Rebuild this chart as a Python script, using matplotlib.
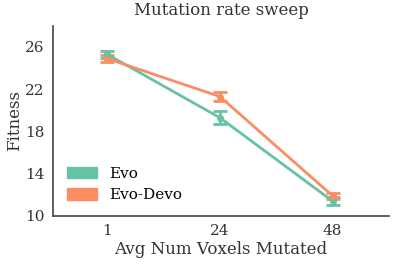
import matplotlib
matplotlib.use("Agg")
import matplotlib.pyplot as plt
from matplotlib.patches import Patch
import numpy as np

plt.rcParams['font.family'] = ['DejaVu Serif']

voxels = ["1", "24", "48"]
evo_mean = [25.3, 19.3, 11.4]
evo_err = [0.3, 0.6, 0.4]
devo_mean = [24.9, 21.3, 11.9]
devo_err = [0.3, 0.4, 0.3]

c_evo = "#66c2a5"
c_devo = "#fc8d62"

fig = plt.figure(figsize=(3.99, 2.66), dpi=100)
ax = fig.add_axes([0.133, 0.188, 0.842, 0.715])

x = np.arange(len(voxels))
ax.errorbar(x, evo_mean, yerr=evo_err, color=c_evo, lw=2, capsize=5,
            capthick=2, marker='o', ms=4)
ax.errorbar(x, devo_mean, yerr=devo_err, color=c_devo, lw=2, capsize=5,
            capthick=2, marker='o', ms=4)

ax.set_xlim(-0.48, 2.5)
ax.set_ylim(10, 28)
ax.set_xticks(x)
ax.set_xticklabels(voxels)
ax.set_yticks([10, 14, 18, 22, 26])
ax.tick_params(length=0, labelsize=11, colors="#333333", pad=6)
for s in ["top", "right"]:
    ax.spines[s].set_visible(False)
for s in ["left", "bottom"]:
    ax.spines[s].set_color("#444444")
    ax.spines[s].set_linewidth(1.2)

ax.set_xlabel("Avg Num Voxels Mutated", fontsize=12, color="#333333", labelpad=2)
ax.set_ylabel("Fitness", fontsize=12, color="#333333", labelpad=1.5)
ax.set_title("Mutation rate sweep", fontsize=12, color="#333333", pad=8)

handles = [Patch(color=c_evo, label="Evo"), Patch(color=c_devo, label="Evo-Devo")]
ax.legend(handles=handles, loc="lower left", frameon=False, fontsize=11,
          handlelength=2.0, handleheight=0.75, borderaxespad=0.5, labelspacing=0.5)

fig.savefig("out.png", dpi=100)
